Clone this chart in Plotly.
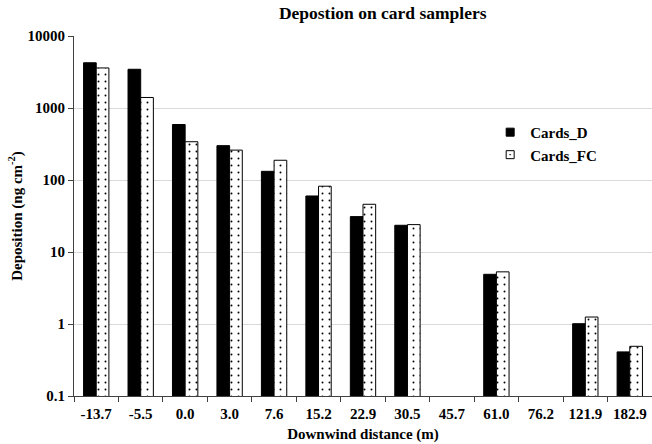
import plotly.graph_objects as go

categories = ["-13.7", "-5.5", "0.0", "3.0", "7.6", "15.2", "22.9", "30.5",
              "45.7", "61.0", "76.2", "121.9", "182.9"]
cards_d = [4250, 3450, 590, 300, 132, 60, 31, 23.5, None, 4.9, None, 1.01, 0.41]
cards_fc = [3600, 1400, 340, 260, 188, 82, 46, 24, None, 5.3, None, 1.25, 0.49]
ytick_vals = [0.1, 1, 10, 100, 1000, 10000]
ytick_text = ["0.1", "1", "10", "100", "1000", "10000"]
series_names = ["Cards_D", "Cards_FC"]

font_family = "Liberation Serif"

fig = go.Figure()
fig.add_trace(go.Bar(
    x=categories, y=cards_d, name=series_names[0], showlegend=False,
    marker=dict(color="black", line=dict(color="black", width=1)),
))
fig.add_trace(go.Bar(
    x=categories, y=cards_fc, name=series_names[1], showlegend=False,
    marker=dict(color="white", line=dict(color="black", width=1),
                pattern=dict(shape=".", fgcolor="black", bgcolor="white",
                             size=7, solidity=0.06, fillmode="replace")),
))
# legend entries with small square markers
fig.add_trace(go.Scatter(
    x=[None], y=[None], mode="markers", name="<b>%s</b>" % series_names[0],
    marker=dict(symbol="square", size=8, color="black", line=dict(color="black", width=1)),
))
fig.add_trace(go.Scatter(
    x=[None], y=[None], mode="markers", name="<b>%s</b>" % series_names[1],
    marker=dict(symbol="square-dot", size=8, color="white", line=dict(color="black", width=1)),
))

fig.update_layout(
    width=652, height=444,
    margin=dict(l=74, r=0, t=36, b=48),
    paper_bgcolor="white", plot_bgcolor="white",
    barmode="group", bargap=0.43, bargroupgap=0,
    font=dict(family=font_family, size=15, color="black"),
    title=dict(text="<b>Depostion on card samplers</b>", x=0.587, xanchor="center",
               y=0.97, yanchor="middle", font=dict(size=17.5, family=font_family)),
    legend=dict(x=0.72, y=0.778, xanchor="left", yanchor="top",
                font=dict(size=15, family=font_family, color="black"),
                bgcolor="rgba(0,0,0,0)", itemwidth=30, tracegroupgap=0),
    showlegend=True,
)
fig.update_xaxes(
    type="category", showline=True, linecolor="#404040", linewidth=1,
    ticks="outside", tickson="boundaries", ticklen=5, tickcolor="#404040",
    tickvals=categories, ticktext=["<b>%s</b>" % c for c in categories],
    tickfont=dict(size=15, family=font_family), ticklabelstandoff=4,
    title=dict(text="<b>Downwind distance (m)</b>", font=dict(size=15), standoff=7),
)
fig.update_yaxes(
    type="log", range=[-1, 4], tickvals=ytick_vals,
    ticktext=["<b>%s</b>" % t for t in ytick_text],
    showline=True, linecolor="#404040", linewidth=1,
    ticks="outside", ticklen=5, tickcolor="#404040",
    showgrid=True, gridcolor="#d9d9d9", gridwidth=1,
    tickfont=dict(size=15, family=font_family),
    title=dict(text="<b>Deposition (ng cm<sup>-2</sup>)</b>", font=dict(size=15), standoff=1),
)

fig.write_html("out.html")
